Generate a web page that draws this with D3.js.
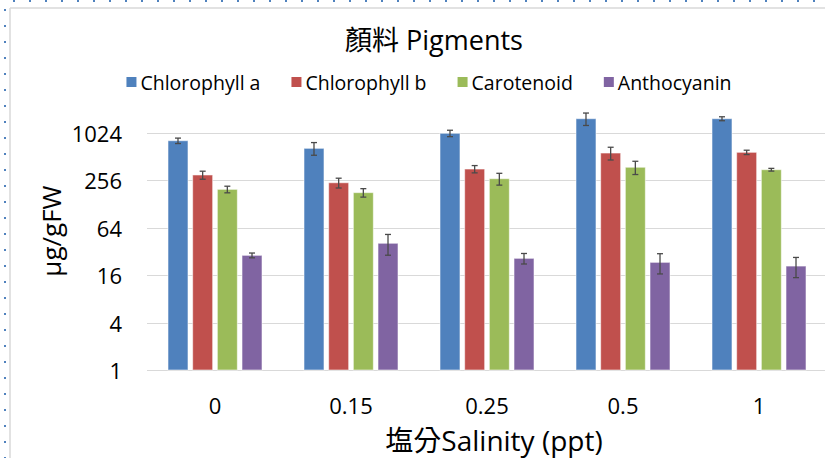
<!DOCTYPE html>
<html lang="zh-Hant">
<head>
  <meta charset="UTF-8" />
  <title>顏料 Pigments</title>
  <style>
    html, body {
      margin: 0;
      background: #fff;
    }
    svg {
      display: block;
      font-family: "Open Sans", "Noto Sans CJK TC", sans-serif;
    }
    .grid line {
      stroke: #d9d9d9;
      stroke-width: 1;
    }
    .tick-label {
      font-size: 22px;
      fill: #000;
    }
    .err line {
      stroke: #4a4a4a;
      stroke-width: 1.3;
    }
  </style>
  <script src="https://d3js.org/d3.v7.min.js"></script>
</head>
<body>
  <svg id="chart" width="825" height="458"></svg>
  <script>
    // data
    const salinity = ["0", "0.15", "0.25", "0.5", "1"];
    const seriesNames = ["Chlorophyll a", "Chlorophyll b", "Carotenoid", "Anthocyanin"];
    const chlorophyllA = [817, 654, 1015, 1556, 1556];
    const chlorophyllAErr = [65, 120, 95, 280, 90];
    const chlorophyllB = [300, 239, 357, 570, 582];
    const chlorophyllBErr = [35, 34, 38, 105, 37];
    const carotenoid = [197, 179, 269, 376, 350];
    const carotenoidErr = [19, 22, 46, 72, 14];
    const anthocyanin = [28.6, 40.7, 26.2, 23.3, 20.9];
    const anthocyaninErr = [2, 12, 4, 6.7, 6];
    const yTicks = [1, 4, 16, 64, 256, 1024];

    const colors = ["#4f81bd", "#c0504d", "#9bbb59", "#8064a2"];
    const values = [chlorophyllA, chlorophyllB, carotenoid, anthocyanin];
    const errors = [chlorophyllAErr, chlorophyllBErr, carotenoidErr, anthocyaninErr];

    const svg = d3.select("#chart");

    // frame + selection dots
    svg.append("line").attr("x1", 10).attr("x2", 825).attr("y1", 8).attr("y2", 8)
      .attr("stroke", "#d9d9d9").attr("stroke-width", 1.5);
    svg.append("line").attr("x1", 10).attr("x2", 10).attr("y1", 8).attr("y2", 458)
      .attr("stroke", "#d9d9d9").attr("stroke-width", 1.5);
    svg.append("g").selectAll("rect").data(d3.range(13, 825, 16)).join("rect")
      .attr("x", d => d).attr("y", 0).attr("width", 2).attr("height", 2).attr("fill", "#4f81bd");
    svg.append("g").selectAll("rect").data(d3.range(9, 458, 16)).join("rect")
      .attr("x", 4).attr("y", d => d).attr("width", 2).attr("height", 2).attr("fill", "#4f81bd");

    // scales
    const x = d3.scaleBand().domain(salinity).range([147, 827]).padding(0);
    const xInner = d3.scaleBand().domain(d3.range(4)).range([-47, 47]).paddingInner(0.19);
    const y = d3.scaleLog().base(2).domain([1, 1024]).range([370, 133]);

    // gridlines
    svg.append("g").attr("class", "grid")
      .selectAll("line").data(yTicks).join("line")
      .attr("x1", 147).attr("x2", 827)
      .attr("y1", d => Math.round(y(d)) + 0.5).attr("y2", d => Math.round(y(d)) + 0.5);

    // y labels
    svg.append("g").selectAll("text").data(yTicks).join("text")
      .attr("class", "tick-label")
      .attr("x", 122).attr("y", d => y(d))
      .attr("text-anchor", "end").attr("dominant-baseline", "central")
      .text(d => d);

    // x labels
    svg.append("g").selectAll("text").data(salinity).join("text")
      .attr("class", "tick-label")
      .attr("x", d => x(d) + x.bandwidth() / 2).attr("y", 405)
      .attr("text-anchor", "middle").attr("dominant-baseline", "central")
      .text(d => d);

    // bars
    const groups = svg.append("g").selectAll("g").data(d3.range(4)).join("g");
    groups.selectAll("rect")
      .data(s => salinity.map((c, i) => ({ s, c, v: values[s][i], e: errors[s][i] })))
      .join("rect")
      .attr("x", d => x(d.c) + x.bandwidth() / 2 + xInner(d.s))
      .attr("y", d => y(d.v))
      .attr("width", xInner.bandwidth())
      .attr("height", d => y(1) - y(d.v))
      .attr("fill", d => colors[d.s])
      .attr("stroke", "rgba(255,255,255,0.55)")
      .attr("stroke-width", 1);

    // error bars
    const err = groups.selectAll("g.err")
      .data(s => salinity.map((c, i) => ({ s, c, v: values[s][i], e: errors[s][i] })))
      .join("g").attr("class", "err")
      .attr("transform", d => `translate(${x(d.c) + x.bandwidth() / 2 + xInner(d.s) + xInner.bandwidth() / 2},0)`);
    err.append("line").attr("x1", 0).attr("x2", 0)
      .attr("y1", d => y(d.v + d.e)).attr("y2", d => y(d.v - d.e));
    err.append("line").attr("x1", -3).attr("x2", 3)
      .attr("y1", d => y(d.v + d.e)).attr("y2", d => y(d.v + d.e));
    err.append("line").attr("x1", -3).attr("x2", 3)
      .attr("y1", d => y(d.v - d.e)).attr("y2", d => y(d.v - d.e));

    // title
    svg.append("text")
      .attr("x", 434).attr("y", 39)
      .attr("text-anchor", "middle").attr("dominant-baseline", "central")
      .attr("font-size", 27)
      .text("顏料 Pigments");

    // axis titles
    svg.append("text")
      .attr("x", 494).attr("y", 440)
      .attr("text-anchor", "middle").attr("dominant-baseline", "central")
      .attr("font-size", 28)
      .text("塩分Salinity (ppt)");

    svg.append("text")
      .attr("transform", "translate(51,231) rotate(-90)")
      .attr("text-anchor", "middle").attr("dominant-baseline", "central")
      .attr("font-size", 26)
      .text("μg/gFW");

    // legend
    const legend = svg.append("g");
    const items = legend.selectAll("g").data(seriesNames).join("g");
    items.append("rect").attr("width", 10).attr("height", 10).attr("y", -5)
      .attr("fill", (d, i) => colors[i]);
    items.append("text").attr("x", 14).attr("font-size", 19.5)
      .attr("dominant-baseline", "central").text(d => d);
    let offset = 0;
    items.each(function () {
      const w = 14 + d3.select(this).select("text").node().getComputedTextLength();
      d3.select(this).attr("transform", `translate(${offset},0)`);
      offset += w + 31;
    });
    const total = offset - 31;
    legend.attr("transform", `translate(${429 - total / 2},82)`);
  </script>
</body>
</html>
